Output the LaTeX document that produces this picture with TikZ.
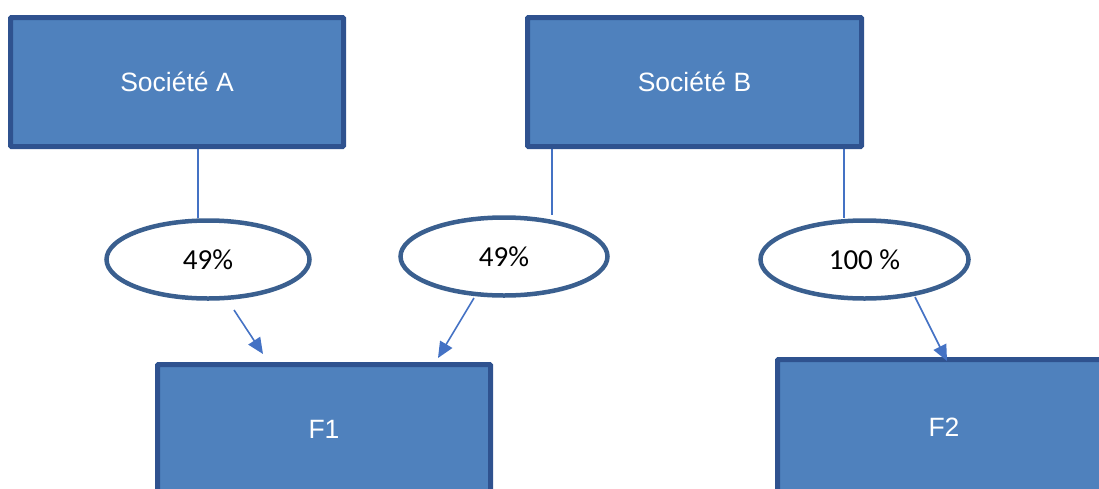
\documentclass[tikz,border=0pt]{standalone}
\usepackage{fontspec}
\setmainfont{Liberation Sans}
\newfontfamily\pctfont{Carlito}
\usetikzlibrary{shapes.geometric,arrows.meta,backgrounds}
\definecolor{boxfill}{HTML}{4F81BD}
\definecolor{boxline}{HTML}{2F528F}
\definecolor{ovalline}{HTML}{3A5F8F}
\definecolor{linkcol}{HTML}{4472C4}
\tikzset{
  company/.style={draw=boxline, fill=boxfill, line width=5pt, rounded corners=1pt,
    inner sep=0pt, minimum width=333pt, minimum height=129pt,
    text=white, font=\fontsize{26.5}{31}\selectfont},
  share/.style={ellipse, draw=ovalline, fill=white, line width=4.5pt, inner sep=0pt,
    minimum height=78pt, text=black, font=\pctfont\fontsize{29}{34}\selectfont},
  link/.style={draw=linkcol, line width=1.6pt},
  owns/.style={link, -{Triangle[length=16pt,width=14pt]}}
}
\begin{document}
\begin{tikzpicture}[x=1pt,y=-1pt]
  \useasboundingbox (0,0) rectangle (1099,488);
  \clip (0,0) rectangle (1099,488);

  % companies and subsidiaries
  \node[company] (A)  at (177,82)    {Société A};
  \node[company, minimum width=334pt] (B) at (694.5,82) {Société B};
  \node[company] (F1) at (324,429)   {F1};
  \node[company, minimum height=135pt] (F2) at (944,427) {F2};

  % ownership shares
  \node[share, minimum width=203pt] (E1) at (208,259.5) {49\%};
  \node[share, minimum width=207pt] (E2) at (504,256.5) {49\%};
  \node[share, minimum width=208pt] (E3) at (864.5,259.5) {100 \%};

  % attachment points of the connectors
  \coordinate (a1) at (198,0);
  \coordinate (b1) at (552,0);
  \coordinate (b2) at (844,0);
  \coordinate (s1) at (234,310);
  \coordinate (t1) at (263,354);
  \coordinate (s2) at (474,298);
  \coordinate (t2) at (438,358);
  \coordinate (s3) at (915,297);
  \coordinate (t3) at (947,361);

  \begin{scope}[on background layer]
    \draw[link] (a1 |- A.south) -- (a1 |- E1.north);
    \draw[link] (b1 |- B.south) -- (b1 |- E2.north);
    \draw[link] (b2 |- B.south) -- (b2 |- E3.north);
  \end{scope}

  \draw[owns] (s1) -- (t1);
  \draw[owns] (s2) -- (t2);
  \draw[owns] (s3) -- (t3);
\end{tikzpicture}
\end{document}
